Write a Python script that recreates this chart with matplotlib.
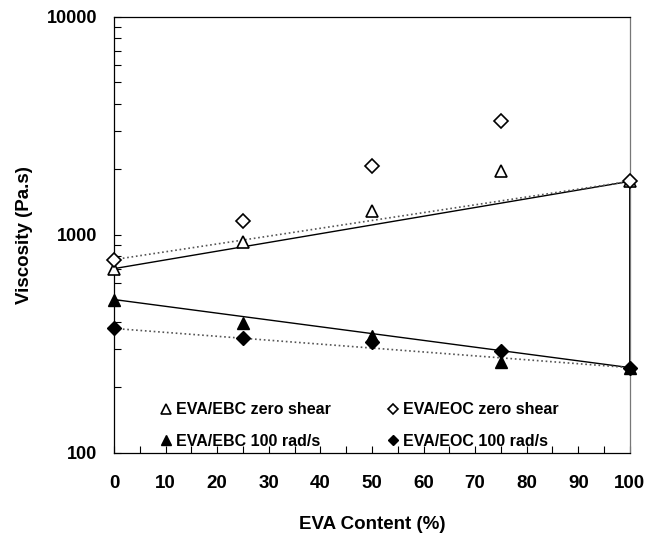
import matplotlib
matplotlib.use("Agg")
import matplotlib.pyplot as plt
from matplotlib.ticker import MultipleLocator, LogLocator, NullFormatter, FixedLocator

plt.rcParams['font.family'] = ['Liberation Sans', 'DejaVu Sans']
plt.rcParams['font.weight'] = 'bold'

eva_content = [0, 25, 50, 75, 100]
ebc_zero_shear = [700, 930, 1280, 1970, 1760]
eoc_zero_shear = [770, 1160, 2080, 3340, 1760]
ebc_100 = [505, 396, 345, 262, 246]
eoc_100 = [372, 338, 321, 292, 246]

labels = ["EVA/EBC zero shear", "EVA/EOC zero shear", "EVA/EBC 100 rad/s", "EVA/EOC 100 rad/s"]

fig = plt.figure(figsize=(6.48, 5.43), dpi=100)
ax = fig.add_axes([0.176, 0.166, 0.796, 0.803])
ax.set_yscale('log')
ax.set_xlim(0, 100)
ax.set_ylim(100, 10000)

# log-additivity lines between pure components
ends = [eva_content[0], eva_content[-1]]
ax.plot(ends, [ebc_zero_shear[0], ebc_zero_shear[-1]], '-', color='black', lw=1.0, zorder=2)
ax.plot(ends, [eoc_zero_shear[0], eoc_zero_shear[-1]], ':', color='#555555', lw=1.2, zorder=2)
ax.plot(ends, [ebc_100[0], ebc_100[-1]], '-', color='black', lw=1.0, zorder=2)
ax.plot(ends, [eoc_100[0], eoc_100[-1]], ':', color='#555555', lw=1.2, zorder=2)
ax.plot([eva_content[-1]] * 2, [ebc_100[-1], ebc_zero_shear[-1]], '-', color='black', lw=1.4, zorder=2, clip_on=False)

h1, = ax.plot(eva_content, ebc_zero_shear, linestyle='none', marker='^', ms=9,
              mfc='white', mec='black', mew=1.2, clip_on=False, zorder=3)
h2, = ax.plot(eva_content, eoc_zero_shear, linestyle='none', marker='D', ms=7,
              mfc='white', mec='black', mew=1.2, clip_on=False, zorder=3)
h3, = ax.plot(eva_content, ebc_100, linestyle='none', marker='^', ms=9,
              mfc='black', mec='black', clip_on=False, zorder=3)
h4, = ax.plot(eva_content, eoc_100, linestyle='none', marker='D', ms=7,
              mfc='black', mec='black', clip_on=False, zorder=3)

leg = ax.legend([h1, h3, h2, h4], [labels[0], labels[2], labels[1], labels[3]],
                ncol=2, frameon=False, loc='upper left', bbox_to_anchor=(0.08, 0.131),
                borderaxespad=0, handlelength=0.6, handletextpad=0.3, columnspacing=3.6,
                labelspacing=1.05, markerscale=0.8, prop={'size': 11.5, 'weight': 'bold'})

ax.xaxis.set_major_locator(MultipleLocator(10))
ax.xaxis.set_minor_locator(MultipleLocator(5))
ax.yaxis.set_major_locator(FixedLocator([100, 1000, 10000]))
ax.yaxis.set_minor_locator(LogLocator(base=10, subs=range(2, 10)))
ax.yaxis.set_minor_formatter(NullFormatter())
ax.set_yticklabels(['100', '1000', '10000'])

ax.tick_params(axis='x', which='both', direction='in', length=5, width=0.8, pad=16, labelsize=13.5, top=False)
ax.tick_params(axis='y', which='both', direction='in', length=5, width=0.8, pad=12, labelsize=13, right=False)
for lbl in ax.get_xticklabels() + ax.get_yticklabels():
    lbl.set_fontweight('bold')

for s in ax.spines.values():
    s.set_linewidth(0.9)
ax.spines['right'].set_color('#777777')

ax.set_xlabel('EVA Content (%)', fontsize=13.5, fontweight='bold', labelpad=17)
ax.set_ylabel('Viscosity (Pa.s)', fontsize=13.5, fontweight='bold', labelpad=10)

fig.savefig('out.png', dpi=100)
